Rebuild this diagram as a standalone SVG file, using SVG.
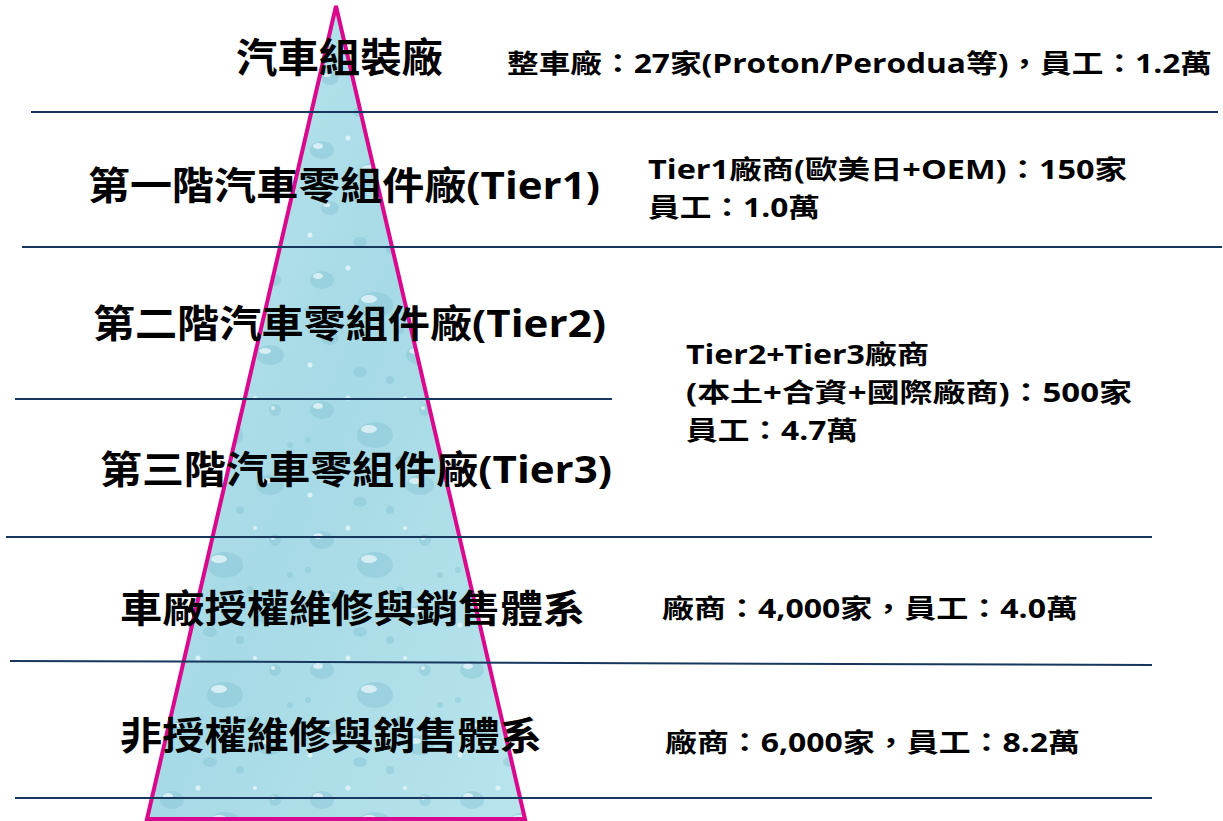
<svg xmlns="http://www.w3.org/2000/svg" width="1223" height="821" viewBox="0 0 1223 821">
<style>
.t{font-family:"Open Sans","Noto Sans CJK TC","Liberation Sans",sans-serif;font-weight:bold;fill:#000}
.big{font-size:38px}
.sm{font-size:26px}
.sep{stroke:#17375E;stroke-width:2;fill:none}
.d{fill:#8AC6D5;opacity:0.5}
.h{fill:#EAF8FB;opacity:0.75}
</style>
<defs>
<linearGradient id="water" x1="0" y1="0" x2="1" y2="1">
<stop offset="0" stop-color="#BCE6EE"/>
<stop offset="0.5" stop-color="#A6DAE6"/>
<stop offset="1" stop-color="#B8E4EC"/>
</linearGradient>
<pattern id="drops" x="0" y="0" width="150" height="130" patternUnits="userSpaceOnUse">
<ellipse class="d" cx="22" cy="20" rx="12" ry="9"/>
<ellipse class="h" cx="18" cy="16" rx="5" ry="3"/>
<ellipse class="d" cx="75" cy="45" rx="18" ry="13"/>
<ellipse class="h" cx="69" cy="39" rx="8" ry="4"/>
<ellipse class="d" cx="30" cy="78" rx="9" ry="7"/>
<ellipse class="h" cx="27" cy="75" rx="3.5" ry="2"/>
<ellipse class="d" cx="120" cy="95" rx="14" ry="10"/>
<ellipse class="h" cx="115" cy="91" rx="6" ry="3"/>
<ellipse class="d" cx="60" cy="112" rx="7" ry="5"/>
<circle class="d" cx="125" cy="20" r="6"/>
<circle class="h" cx="123" cy="18" r="2"/>
<circle class="d" cx="8" cy="50" r="3"/>
<circle class="d" cx="100" cy="70" r="4"/>
<circle class="d" cx="140" cy="55" r="3"/>
<circle class="d" cx="90" cy="120" r="4"/>
<circle class="h" cx="48" cy="8" r="2.5"/>
<circle class="h" cx="105" cy="8" r="2"/>
<circle class="h" cx="10" cy="105" r="2.5"/>
</pattern>
</defs>
<g id="pyramid">
<polygon points="336,6 147,819 525,819" fill="url(#water)"/>
<polygon points="336,6 147,819 525,819" fill="url(#drops)"/>
<polygon points="336,6 147,819 525,819" fill="none" stroke="#D9088C" stroke-width="4" stroke-linejoin="miter"/>
</g>
<g id="connectors">
<line class="sep" x1="31" y1="112" x2="1218" y2="112"/>
<line class="sep" x1="22" y1="247" x2="1222" y2="247"/>
<line class="sep" x1="15" y1="399" x2="612" y2="399"/>
<line class="sep" x1="6" y1="537" x2="1152" y2="537"/>
<line class="sep" x1="10" y1="661" x2="1152" y2="665"/>
<line class="sep" x1="15" y1="798" x2="1152" y2="798"/>
</g>
<g id="level1">
<text class="t" x="236" y="72" font-size="40" textLength="207" lengthAdjust="spacingAndGlyphs">汽車組裝廠</text>
<text class="t sm" x="507" y="73" textLength="705" lengthAdjust="spacingAndGlyphs">整車廠：27家(Proton/Perodua等)，員工：1.2萬</text>
</g>
<g id="level2">
<text class="t big" x="88" y="199" textLength="512" lengthAdjust="spacingAndGlyphs">第一階汽車零組件廠(Tier1)</text>
<text class="t sm" x="648" y="179" textLength="479" lengthAdjust="spacingAndGlyphs">Tier1廠商(歐美日+OEM)：150家</text>
<text class="t sm" x="648" y="217" textLength="172" lengthAdjust="spacingAndGlyphs">員工：1.0萬</text>
</g>
<g id="level3">
<text class="t big" x="93" y="337" textLength="513" lengthAdjust="spacingAndGlyphs">第二階汽車零組件廠(Tier2)</text>
</g>
<g id="level23info">
<text class="t sm" x="686" y="364" textLength="243" lengthAdjust="spacingAndGlyphs">Tier2+Tier3廠商</text>
<text class="t sm" x="686" y="402" textLength="446" lengthAdjust="spacingAndGlyphs">(本土+合資+國際廠商)：500家</text>
<text class="t sm" x="686" y="440" textLength="172" lengthAdjust="spacingAndGlyphs">員工：4.7萬</text>
</g>
<g id="level4">
<text class="t big" x="100" y="483" textLength="512" lengthAdjust="spacingAndGlyphs">第三階汽車零組件廠(Tier3)</text>
</g>
<g id="level5">
<text class="t big" x="120" y="622" textLength="465" lengthAdjust="spacingAndGlyphs">車廠授權維修與銷售體系</text>
<text class="t sm" x="662" y="618" textLength="416" lengthAdjust="spacingAndGlyphs">廠商：4,000家，員工：4.0萬</text>
</g>
<g id="level6">
<text class="t big" x="120" y="749" textLength="422" lengthAdjust="spacingAndGlyphs">非授權維修與銷售體系</text>
<text class="t sm" x="665" y="752" textLength="415" lengthAdjust="spacingAndGlyphs">廠商：6,000家，員工：8.2萬</text>
</g>
</svg>
